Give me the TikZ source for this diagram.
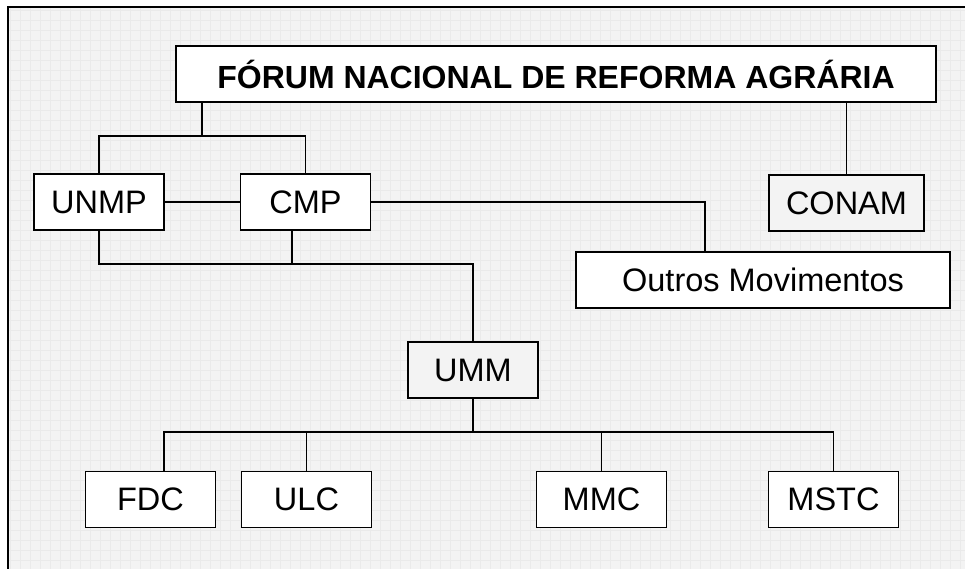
\documentclass[tikz,border=0pt]{standalone}
\usepackage{fontspec}
\setmainfont{Liberation Sans}
\usetikzlibrary{positioning}

\definecolor{paper}{HTML}{F3F3F3}
\definecolor{gridgray}{HTML}{EAEAEA}

\tikzstyle{org} = [rectangle, minimum width=130pt, minimum height=56pt, inner sep=0pt, text centered, draw=black, line width=1.8pt, fill=white, font=\fontsize{32.5}{38}\selectfont]
\tikzstyle{orgshade} = [org, fill=paper]
\tikzstyle{forum} = [org, minimum width=760pt, font=\fontsize{32}{38}\selectfont\bfseries]
\tikzstyle{link} = [line width=1.8pt]

\begin{document}
\begin{tikzpicture}[x=1pt, y=-1pt]

	% page and grid
	\useasboundingbox (0,0) rectangle (965,569);
	\fill[paper] (8,7) rectangle (965,569);
	\draw[gridgray, line width=0.5pt, step=10pt] (8,7) grid (965,569);
	\draw[line width=2pt] (8,569) -- (8,7) -- (965,7);

	\node (forum) [forum] at (556,74) {FÓRUM NACIONAL DE REFORMA AGRÁRIA};
	\node (unmp) [org] at (99,202) {UNMP};
	\node (cmp) [org] at (305.5,202) {CMP};
	\node (conam) [orgshade, minimum width=155pt] at (846.5,203) {CONAM};
	\node (outros) [org, minimum width=374pt] at (763,280) {Outros Movimentos};
	\node (umm) [orgshade] at (473,370) {UMM};
	\node (fdc) [org] at (150.5,499.5) {FDC};
	\node (ulc) [org, right=24.2pt of fdc] {ULC};
	\node (mmc) [org] at (601.5,499.5) {MMC};
	\node (mstc) [org] at (833.5,499.5) {MSTC};

	\coordinate (top) at (202,136);
	\coordinate (mid) at (473,264);
	\coordinate (low) at (473,432);

	\draw [link] (top) -- (top |- forum.south);
	\draw [link] (unmp.north) |- (top) -| (cmp.north);
	\draw [link] (conam.north) -- (conam.north |- forum.south);
	\draw [link] (unmp.east) -- (cmp.west);
	\draw [link] (cmp.east) -| ([xshift=-58pt]outros.north);
	\draw [link] (unmp.south) |- (mid) -- (umm.north);
	\draw [link] ([xshift=-13.5pt]cmp.south) -- ([xshift=-13.5pt]cmp.south |- mid);
	\draw [link] (umm.south) -- (low);
	\draw [link] ([xshift=13.5pt]fdc.north) |- (low) -| (mstc.north);
	\draw [link] (ulc.north) -- (ulc.north |- low);
	\draw [link] (mmc.north) -- (mmc.north |- low);

\end{tikzpicture}
\end{document}
